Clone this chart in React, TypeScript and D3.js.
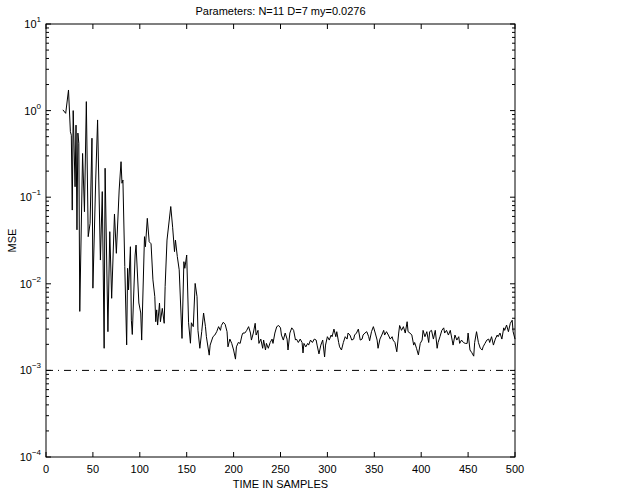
import React from "react";
import * as d3 from "d3";

// MSE learning curve (sample index, mean squared error)
const samples = [
  18, 21, 24, 26, 27, 28, 29, 31, 32, 33,
  34, 35, 36, 39, 41, 43, 45, 47, 49, 50,
  53, 55, 58, 60, 62, 63, 66, 68, 70, 73,
  75, 78, 80, 81, 82, 84, 86, 87, 88, 90,
  91, 92, 95, 96, 99, 101, 102, 105, 106, 108,
  110, 112, 114, 116, 117, 118, 119, 121, 122, 124,
  126, 127, 129, 133, 135, 137, 138, 140, 142, 145,
  147, 148, 150, 152, 154, 155, 157, 159, 161, 162,
  164, 166, 168, 170, 171, 174, 175, 178, 180, 182,
  184, 186, 187,
  189, 191, 193, 194, 196, 198, 200, 202, 203, 205,
  207, 209, 210, 212, 214, 216, 218, 219, 221, 223,
  224, 226, 227, 229, 231, 232, 234, 235, 237, 239,
  241, 242, 244, 246, 248, 250, 251, 253, 255, 257,
  258, 260, 262, 264, 266, 267, 269, 271, 273, 274,
  275, 277, 279, 280, 282, 284, 286, 288, 289, 291,
  293, 295, 297, 298, 300, 302, 304, 305, 307, 309,
  310, 312, 313, 315, 317, 319, 321, 322, 324, 326,
  328, 329, 331, 333, 335, 337, 338, 340, 342, 344,
  345, 347, 349, 351, 353, 354, 356, 358, 360, 361,
  363, 365, 367, 369, 370, 372, 374, 376, 377, 379,
  381, 383, 385, 386, 388, 390, 392, 393, 395, 397,
  399, 401, 402, 404, 406, 408, 409, 411, 413, 415,
  417, 418, 420, 422, 424, 425, 427, 429, 431, 433,
  434, 436, 438, 440, 441, 443, 445, 447, 449, 450,
  452, 454, 456, 457, 459, 461, 463, 465, 466, 468,
  470, 472, 473, 475, 477, 479, 481, 482, 484, 486,
  488, 489, 491, 493, 495, 497, 498, 500,
];

const mse = [
  1.02, 0.93, 1.73, 0.57, 0.52, 0.071, 1.0, 0.132, 0.68, 0.042,
  0.55, 0.42, 0.0048, 0.32, 0.068, 1.27, 0.035, 0.05, 0.48, 0.0089,
  0.158, 0.78, 0.0188, 0.116, 0.0018, 0.216, 0.0028, 0.04, 0.0068, 0.064,
  0.0225, 0.121, 0.257, 0.145, 0.158, 0.0158, 0.00197, 0.0151, 0.0085, 0.0268,
  0.0038, 0.0026, 0.0215, 0.028, 0.006, 0.0046, 0.00224, 0.035, 0.0268, 0.057,
  0.0306, 0.029, 0.0111, 0.0071, 0.00365, 0.005, 0.00334, 0.006, 0.00365, 0.0052,
  0.0035, 0.0093, 0.032, 0.078, 0.045, 0.0235, 0.032, 0.0206, 0.0145, 0.00234,
  0.018, 0.0151, 0.0215, 0.00355, 0.00206, 0.00355, 0.0032, 0.0101, 0.0071, 0.0029,
  0.0018, 0.0028, 0.0046, 0.0032, 0.00245, 0.0015, 0.00196, 0.00245, 0.00256, 0.0028,
  0.0032, 0.0029, 0.0033,
  0.0036, 0.0034, 0.0028, 0.00187, 0.0023, 0.00205, 0.00172, 0.00135, 0.00187, 0.0021,
  0.00205, 0.00256, 0.0027, 0.0027, 0.0029, 0.0032, 0.0027, 0.00224, 0.0027, 0.0035,
  0.00256, 0.0029, 0.00205, 0.0023, 0.0018, 0.00224, 0.00172, 0.00205, 0.0018, 0.0021,
  0.0023, 0.00205, 0.0027, 0.0032, 0.0033, 0.0031, 0.00256, 0.00224, 0.0027, 0.0023,
  0.00172, 0.0027, 0.0031, 0.0029, 0.00224, 0.0023, 0.0021, 0.0023, 0.0021, 0.00159,
  0.00205, 0.00187, 0.00205, 0.00196, 0.00224, 0.0021, 0.0023, 0.00224, 0.00196, 0.00155,
  0.00196, 0.00224, 0.00143, 0.00196, 0.00245, 0.00224, 0.00256, 0.00245, 0.003, 0.00245,
  0.0028, 0.0021, 0.00187, 0.00172, 0.0021, 0.00245, 0.0023, 0.0027, 0.00256, 0.00224,
  0.0023, 0.00256, 0.0027, 0.003, 0.00224, 0.0023, 0.00256, 0.0027, 0.0028, 0.00245,
  0.0022, 0.0028, 0.0032, 0.0027, 0.00224, 0.0018, 0.0023, 0.00256, 0.0029, 0.00256,
  0.0028, 0.00256, 0.0023, 0.00245, 0.00224, 0.0021, 0.00164, 0.0027, 0.0033, 0.0029,
  0.0032, 0.0027, 0.00365, 0.0028, 0.0027, 0.00256, 0.00196, 0.0021, 0.0018, 0.00151,
  0.00205, 0.00224, 0.0029, 0.00245, 0.0028, 0.0021, 0.0028, 0.0029, 0.0023, 0.0029,
  0.0018, 0.0021, 0.00245, 0.0029, 0.0031, 0.0027, 0.0029, 0.00256, 0.0029, 0.00224,
  0.00196, 0.00256, 0.00224, 0.00245, 0.00205, 0.00224, 0.0021, 0.00205, 0.00205, 0.0027,
  0.00172, 0.0016, 0.00146, 0.0021, 0.0028, 0.0021, 0.0018, 0.00172, 0.00187, 0.00205,
  0.00224, 0.0023, 0.0021, 0.00245, 0.00196, 0.0023, 0.00256, 0.00245, 0.0027, 0.0023,
  0.0031, 0.0029, 0.00334, 0.0028, 0.0035, 0.0038, 0.0028, 0.0023,
];

const xTicks = [0, 50, 100, 150, 200, 250, 300, 350, 400, 450, 500];
const yExponents = [-4, -3, -2, -1, 0, 1];
const minimumMse = 1e-3;

const title = "Parameters: N=11 D=7 my=0.0276";
const xLabel = "TIME IN SAMPLES";
const yLabel = "MSE";

const W = 617;
const H = 495;
const margin = { top: 24, right: 102, bottom: 38, left: 46 };
const font = "'Liberation Sans', Arial, Helvetica, sans-serif";

export default function App() {
  const iw = W - margin.left - margin.right;
  const ih = H - margin.top - margin.bottom;

  const x = d3.scaleLinear().domain([0, 500]).range([0, iw]);
  const y = d3.scaleLog().domain([1e-4, 1e1]).range([ih, 0]);

  const points = samples.map((s, i) => [s, mse[i]] as [number, number]);
  const line = d3
    .line<[number, number]>()
    .x((d) => x(d[0]))
    .y((d) => y(d[1]));

  // log minor ticks (2..9 in each decade)
  const minorTicks = y.ticks().filter((v) => {
    const e = Math.log10(v);
    return Math.abs(e - Math.round(e)) > 1e-6;
  });

  return (
    <svg
      width={W}
      height={H}
      style={{ position: "absolute", left: 0, top: 0, background: "#fff" }}
      fontFamily={font}
    >
      <text x={margin.left + iw / 2} y={15} fontSize={11} textAnchor="middle">
        {title}
      </text>
      <g transform={`translate(${margin.left},${margin.top})`}>
        <path d={line(points) || ""} fill="none" stroke="#000" strokeWidth={1} />
        <line
          x1={0}
          x2={iw}
          y1={y(minimumMse)}
          y2={y(minimumMse)}
          stroke="#000"
          strokeWidth={1}
          strokeDasharray="7,5,1,5"
        />

        {/* x ticks, inward on bottom and top */}
        {xTicks.map((t) => (
          <g key={`x${t}`}>
            <line x1={x(t)} x2={x(t)} y1={ih} y2={ih - 5} stroke="#000" />
            <line x1={x(t)} x2={x(t)} y1={0} y2={5} stroke="#000" />
            <text x={x(t)} y={ih + 16} fontSize={11} textAnchor="middle">
              {t}
            </text>
          </g>
        ))}

        {/* y major ticks */}
        {yExponents.map((e) => {
          const v = Math.pow(10, e);
          const label = e < 0 ? `\u2212${-e}` : `${e}`;
          return (
            <g key={`y${e}`}>
              <line x1={0} x2={5} y1={y(v)} y2={y(v)} stroke="#000" />
              <line x1={iw} x2={iw - 5} y1={y(v)} y2={y(v)} stroke="#000" />
              <text x={-5} y={y(v) + 4} fontSize={11} textAnchor="end">
                10
                <tspan fontSize={8} dy={-6}>
                  {label}
                </tspan>
              </text>
            </g>
          );
        })}

        {/* y minor ticks */}
        {minorTicks.map((v, i) => (
          <g key={`m${i}`}>
            <line x1={0} x2={3} y1={y(v)} y2={y(v)} stroke="#000" />
            <line x1={iw} x2={iw - 3} y1={y(v)} y2={y(v)} stroke="#000" />
          </g>
        ))}

        <rect x={0} y={0} width={iw} height={ih} fill="none" stroke="#000" strokeWidth={1} />

        <text x={iw / 2} y={ih + 31} fontSize={11} textAnchor="middle">
          {xLabel}
        </text>
        <text
          transform={`translate(${-30},${ih / 2}) rotate(-90)`}
          fontSize={11}
          textAnchor="middle"
        >
          {yLabel}
        </text>
      </g>
    </svg>
  );
}
